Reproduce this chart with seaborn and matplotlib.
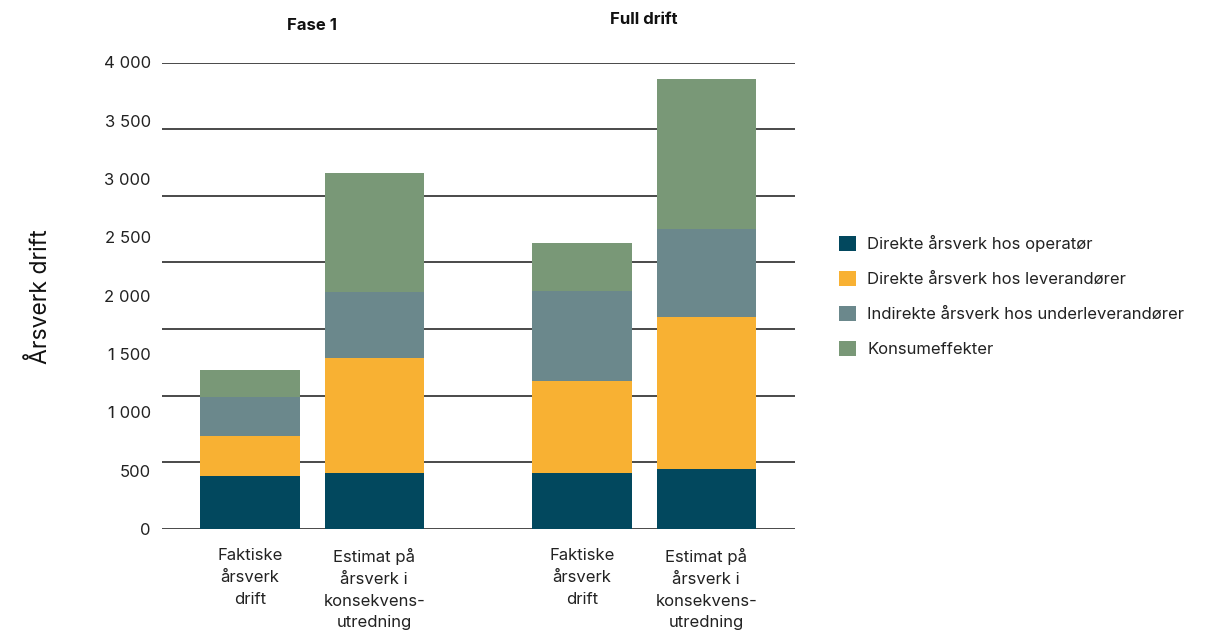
import numpy as np
import pandas as pd
import matplotlib
matplotlib.use("Agg")
import matplotlib.pyplot as plt
from matplotlib.patches import Patch
import seaborn as sns

# Categories and series (årsverk per kategori)
groups = ["Fase 1", "Full drift"]
bar_labels = [
    "Faktiske\nårsverk\ndrift",
    "Estimat på\nårsverk i\nkonsekvens-\nutredning",
    "Faktiske\nårsverk\ndrift",
    "Estimat på\nårsverk i\nkonsekvens-\nutredning",
]
series_names = [
    "Direkte årsverk hos operatør",
    "Direkte årsverk hos leverandører",
    "Indirekte årsverk hos underleverandører",
    "Konsumeffekter",
]
operator = [454, 480, 480, 514]
leverandorer = [343, 986, 789, 1303]
underleverandorer = [337, 565, 771, 754]
konsum = [229, 1020, 411, 1286]
y_ticks = [0, 500, 1000, 1500, 2000, 2500, 3000, 3500, 4000]

colors = ["#02485E", "#F8B133", "#6B888C", "#799877"]

sns.set_theme(style="white")
plt.rcParams["font.family"] = ["Inter", "DejaVu Sans"]

# Two bars per group, a wider gap between groups
group_gap = 1.673
pos = np.array([0.0, 1.0, group_gap + 1.0, group_gap + 2.0])

values = np.array([operator, leverandorer, underleverandorer, konsum], dtype=float)
cum = np.cumsum(values, axis=0)

fig = plt.figure(figsize=(12.27, 6.3), dpi=100)
ax = fig.add_axes([162 / 1227, 1 - 529 / 630, (795 - 162) / 1227, (529 - 62.5) / 630])

# Gridlines behind the bars
for k in range(8):
    ax.axhline(4000 * k / 7, color="#3a3a3a", lw=1.3, zorder=0)

# Stacked bars: draw cumulative totals from the top layer down
for i in range(3, -1, -1):
    df = pd.DataFrame({"pos": pos, "verdi": cum[i]})
    sns.barplot(data=df, x="pos", y="verdi", native_scale=True, color=colors[i],
                saturation=1, width=0.8, ax=ax, zorder=2, linewidth=0)

ax.set_xlim(-0.708, pos[-1] + 0.714)
ax.set_ylim(0, 4000)
ax.set_yticks(y_ticks, [f"{v:,}".replace(",", " ") for v in y_ticks])
ax.set_xticks(pos, bar_labels)
ax.tick_params(axis="y", length=0, pad=8, labelsize=12, labelcolor="#222222")
ax.tick_params(axis="x", length=0, pad=14, labelsize=12, labelcolor="#222222")
for lab in ax.get_xticklabels():
    lab.set_linespacing(1.55)
ax.set_xlabel("")
ax.set_ylabel("")
for s in ax.spines.values():
    s.set_visible(False)

# Group titles
fig.text(312 / 1227, 1 - 26 / 630, groups[0], ha="center", va="center",
         fontsize=12, fontweight="bold", color="#111111")
fig.text(644 / 1227, 1 - 19 / 630, groups[1], ha="center", va="center",
         fontsize=12, fontweight="bold", color="#111111")

# Axis title
fig.text(40 / 1227, 1 - 297 / 630, "Årsverk drift", rotation=90, ha="center",
         va="center", fontsize=16.5, color="#111111")

handles = [Patch(facecolor=c, edgecolor="none") for c in colors]
fig.legend(handles, series_names, loc="center left",
           bbox_to_anchor=(824 / 1227, 1 - 296 / 630), frameon=False,
           fontsize=12, handlelength=1.0, handleheight=1.0, handletextpad=0.7,
           labelspacing=1.12, labelcolor="#222222")

fig.savefig("out.png", dpi=100)
